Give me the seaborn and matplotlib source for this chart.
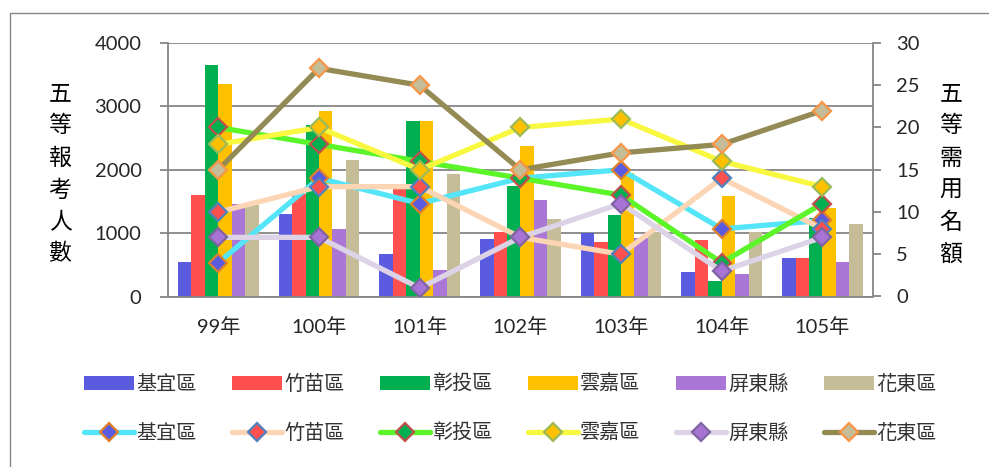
import numpy as np
import pandas as pd
import matplotlib
matplotlib.use('Agg')
import matplotlib.pyplot as plt
import matplotlib.patches as mpatches
from matplotlib.lines import Line2D
import seaborn as sns

# data
years = ['99年', '100年', '101年', '102年', '103年', '104年', '105年']
regions = ['基宜區', '竹苗區', '彰投區', '雲嘉區', '屏東縣', '花東區']

# 五等報考人數 (left axis, bars)
app_jiyi = [550, 1300, 670, 910, 1000, 380, 610]
app_zhumiao = [1600, 1620, 1690, 1020, 860, 890, 600]
app_zhangtou = [3650, 2710, 2770, 1740, 1280, 250, 1240]
app_yunjia = [3350, 2920, 2770, 2380, 1950, 1590, 1390]
app_pingdong = [1460, 1070, 420, 1520, 930, 350, 540]
app_huadong = [1450, 2150, 1930, 1220, 1010, 1010, 1140]

# 五等需用名額 (right axis, lines)
q_jiyi = [4, 14, 11, 14, 15, 8, 9]
q_zhumiao = [10, 13, 13, 7, 5, 14, 8]
q_zhangtou = [20, 18, 16, 14, 12, 4, 11]
q_yunjia = [18, 20, 15, 20, 21, 16, 13]
q_pingdong = [7, 7, 1, 7, 11, 3, 7]
q_huadong = [15, 27, 25, 15, 17, 18, 22]

applicants = [app_jiyi, app_zhumiao, app_zhangtou, app_yunjia, app_pingdong, app_huadong]
quotas = [q_jiyi, q_zhumiao, q_zhangtou, q_yunjia, q_pingdong, q_huadong]

bar_colors = ['#5B5BE0', '#FF5050', '#00B050', '#FFC000', '#AA77D6', '#C4BD97']
line_colors = ['#55E5F8', '#FCD5B5', '#5BF52A', '#F8F840', '#DCD3E6', '#948A54']
mk_face = ['#5B5BE0', '#FF5050', '#00B050', '#FFC000', '#A774D5', '#C4BD97']
mk_edge = ['#E0802A', '#4F81BD', '#C0504D', '#9BBB59', '#8064A2', '#F79646']

sns.set_style('white')
plt.rcParams['font.family'] = ['Noto Sans CJK TC', 'DejaVu Sans']
num_font = ['Lato', 'Noto Sans CJK TC']
grey = '#868686'

rows = []
for r, vals in zip(regions, applicants):
    for y, v in zip(years, vals):
        rows.append({'year': y, 'region': r, 'count': v})
df = pd.DataFrame(rows)

fig = plt.figure(figsize=(9.89, 4.67), dpi=100)
ax = fig.add_axes([168/989, 1 - 296.5/467, (872.7 - 168)/989, (296.5 - 43)/467])

# outer chart frame
fig.patches.append(mpatches.Rectangle((10/989, -0.1), 1.2, 1 - 13/467 + 0.1,
                                      transform=fig.transFigure, fill=False,
                                      edgecolor=grey, lw=1.0))

sns.barplot(data=df, x='year', y='count', hue='region', palette=bar_colors,
            width=0.8, saturation=1, ax=ax, legend=False, edgecolor='none')

ax.set_ylim(0, 4000)
ax.set_xlim(-0.5, 6.5)
ax.set_yticks([0, 1000, 2000, 3000, 4000])
ax.yaxis.grid(True, color=grey, lw=1.3)
ax.set_axisbelow(True)
ax.set_xlabel('')
ax.set_ylabel('')
for s in ['left', 'bottom']:
    ax.spines[s].set_color(grey)
    ax.spines[s].set_linewidth(1.3)
ax.spines['top'].set_visible(False)
ax.spines['right'].set_visible(False)

# category boundaries as ticks, labels at centres
ax.set_xticks(np.arange(-0.5, 7, 1))
ax.set_xticklabels([])
ax.set_xticks(np.arange(7), minor=True)
ax.set_xticklabels(years, minor=True, fontsize=14.5, family=num_font)
ax.tick_params(axis='x', which='major', length=6, width=1.3, color=grey, direction='out')
ax.tick_params(axis='x', which='minor', length=0, pad=15)
ax.tick_params(axis='y', length=6, width=1.3, color=grey, direction='out', pad=13)
for t in ax.get_yticklabels():
    t.set_fontsize(14.5)
    t.set_family(num_font)

ax2 = ax.twinx()
xpos = np.arange(len(years))
for i, r in enumerate(regions):
    sns.lineplot(x=xpos, y=quotas[i], ax=ax2, color=line_colors[i], lw=3.8,
                 marker='D', markersize=9.5, markerfacecolor=mk_face[i],
                 markeredgecolor=mk_edge[i], markeredgewidth=1.6)
ax2.set_ylim(0, 30)
ax2.set_yticks(range(0, 31, 5))
ax2.set_ylabel('')
ax2.tick_params(axis='y', length=6, width=1.3, color=grey, direction='out', pad=11)
for t in ax2.get_yticklabels():
    t.set_fontsize(14.5)
    t.set_family(num_font)
for s in ['left', 'top', 'bottom']:
    ax2.spines[s].set_visible(False)
ax2.spines['right'].set_color(grey)
ax2.spines['right'].set_linewidth(1.3)

# stacked vertical axis titles
fig.text(60/989, 1 - 174/467, '\n'.join('五等報考人數'), ha='center', va='center',
         fontsize=16.5, linespacing=1.5, color='black', fontweight='medium')
fig.text(951/989, 1 - 174/467, '\n'.join('五等需用名額'), ha='center', va='center',
         fontsize=16.5, linespacing=1.5, color='black', fontweight='medium')

handles, labels = [], []
for i, r in enumerate(regions):
    handles.append(mpatches.Patch(facecolor=bar_colors[i], edgecolor='none'))
    labels.append(r)
    handles.append(Line2D([], [], color=line_colors[i], lw=3.8, marker='D',
                          markersize=9.5, markerfacecolor=mk_face[i],
                          markeredgecolor=mk_edge[i], markeredgewidth=1.6))
    labels.append(r)
leg = fig.legend(handles, labels, ncol=6, loc='center', bbox_to_anchor=(510/989, 1 - 409/467),
                 frameon=False, fontsize=14.5, handlelength=2.5, handleheight=0.72,
                 handletextpad=0.1, columnspacing=1.75, labelspacing=1.4)
for t in leg.get_texts():
    t.set_color('#333333')

fig.savefig('out.png', dpi=100)
